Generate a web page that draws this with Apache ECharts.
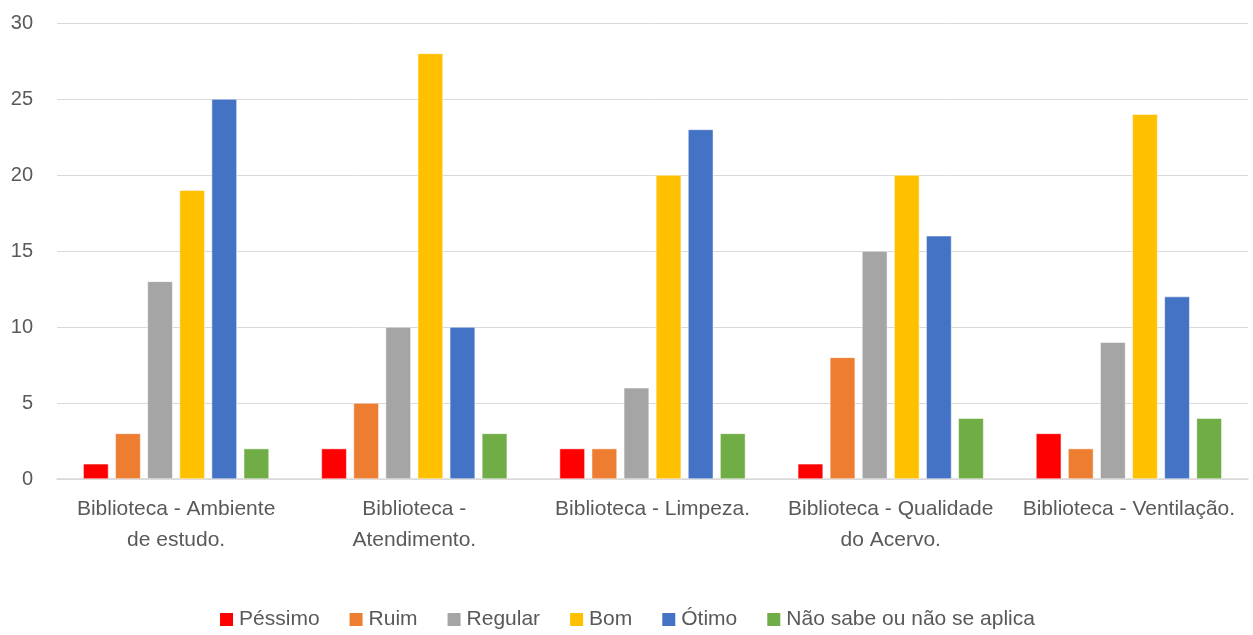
<!DOCTYPE html>
<html><head><meta charset="utf-8">
<script src="https://cdn.jsdelivr.net/npm/echarts@6/dist/echarts.min.js"></script>
<style>html,body{margin:0;padding:0;background:#fff;}#c{width:1253px;height:635px;}</style>
</head><body><div id="c"></div>
<script>
const categories = ["Biblioteca - Ambiente\nde estudo.", "Biblioteca -\nAtendimento.", "Biblioteca - Limpeza.", "Biblioteca - Qualidade\ndo Acervo.", "Biblioteca - Ventilação."];
const seriesNames = ["Péssimo", "Ruim", "Regular", "Bom", "Ótimo", "Não sabe ou não se aplica"];
const pessimo = [1, 2, 2, 1, 3];
const ruim = [3, 5, 2, 8, 2];
const regular = [13, 10, 6, 15, 9];
const bom = [19, 28, 20, 20, 24];
const otimo = [25, 10, 23, 16, 12];
const naoSabe = [2, 3, 3, 4, 4];
const yTicks = [0, 5, 10, 15, 20, 25, 30];
const colors = ["#FF0000", "#ED7D31", "#A5A5A5", "#FFC000", "#4472C4", "#70AD47"];
const values = [pessimo, ruim, regular, bom, otimo, naoSabe];
const font = "'Liberation Sans', Arial, sans-serif";
const chart = echarts.init(document.getElementById('c'));
chart.setOption({
  animation: false,
  color: colors,
  textStyle: { fontFamily: font },
  grid: { left: 57, right: 5, top: 23, bottom: 156 },
  legend: {
    bottom: 0, left: 'center', itemWidth: 15, itemHeight: 15, itemGap: 28,
    icon: 'rect',
    textStyle: { fontSize: 21, color: '#595959', fontFamily: font }
  },
  xAxis: {
    type: 'category', data: categories,
    axisTick: { show: false },
    axisLine: { lineStyle: { color: '#D9D9D9', width: 1.5 } },
    axisLabel: { fontSize: 21, color: '#595959', lineHeight: 31, margin: 15, interval: 0 }
  },
  yAxis: {
    type: 'value', min: yTicks[0], max: yTicks[yTicks.length - 1], interval: 5,
    axisLine: { show: false }, axisTick: { show: false },
    splitLine: { lineStyle: { color: '#D9D9D9' } },
    axisLabel: { fontSize: 20, color: '#595959', margin: 24 }
  },
  series: seriesNames.map((n, i) => ({
    name: n, type: 'bar', data: values[i],
    barGap: '27%', barCategoryGap: '22%',
    itemStyle: { borderColor: '#fff', borderWidth: 0.5 }
  }))
});
</script></body></html>
